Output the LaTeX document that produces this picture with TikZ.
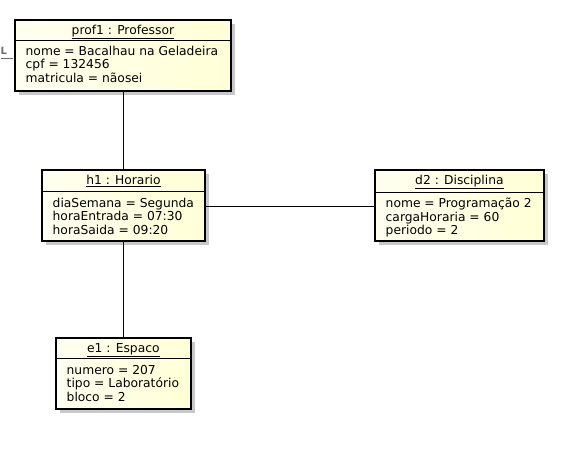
\documentclass[tikz,border=0pt]{standalone}
\usepackage{fontspec}
\setmainfont{DejaVu Sans}
\usetikzlibrary{shadows,calc}
\definecolor{objfill}{RGB}{255,255,214}
\definecolor{objfillL}{RGB}{255,255,240}
\definecolor{shadowgray}{RGB}{200,200,200}
\definecolor{markgray}{RGB}{110,110,110}
\tikzset{
  objbox/.style={draw=black, line width=1.8pt, left color=objfillL, right color=objfill,
    inner sep=0pt, anchor=north west,
    drop shadow={shadow xshift=4pt, shadow yshift=-4pt, fill=shadowgray, opacity=1}},
  objtitle/.style={anchor=base, inner sep=0pt, font=\fontsize{12.3}{13.5}\selectfont},
  objattr/.style={anchor=base west, inner sep=0pt, align=left, font=\fontsize{12.3}{13.5}\selectfont},
  sepline/.style={draw=black, line width=0.8pt},
  link/.style={draw=black, line width=0.8pt}
}
% \umlobj{name}{left}{top}{width}{height}{header height}{title}{attribute lines}
% the attribute block is placed by the baseline of its last (third) line
\newcommand{\umlobj}[8]{%
  \node[objbox, minimum width=#4pt, minimum height=#5pt] (#1) at (#2,#3) {};
  \node[objtitle] (#1-title) at ($(#1.north)+(0,15.5)$) {\underline{#7}};
  \draw[sepline] ($(#1.north west)+(0,#6)$) -- ($(#1.north east)+(0,#6)$);
  \node[objattr] (#1-attrs) at ($(#1.north west)+(11.5,#6+42.5)$) {#8};
}
\begin{document}
\begin{tikzpicture}[x=1pt, y=-1pt]
  \useasboundingbox[fill=white] (0,0) rectangle (572,457);

  \umlobj{prof1}{14}{19}{216}{71}{21}{prof1 : Professor}{nome = Bacalhau na Geladeira\\cpf = 132456\\matricula = nãosei}
  \umlobj{h1}{41}{169}{163}{71}{22.5}{h1 : Horario}{diaSemana = Segunda\\horaEntrada = 07:30\\horaSaida = 09:20}
  \umlobj{d2}{374}{169}{169}{71}{23}{d2 : Disciplina}{nome = Programação 2\\cargaHoraria = 60\\periodo = 2}
  \umlobj{e1}{55}{337}{135}{71}{21.5}{e1 : Espaco}{numero = 207\\tipo = Laboratório\\bloco = 2}

  % links between the objects
  \draw[link] (prof1.south) -- (prof1.south |- h1.north);
  \draw[link] (prof1.south |- h1.south) -- (prof1.south |- e1.north);
  \draw[link] (h1.east |- 0,206) -- (d2.west |- 0,206);

  % clipped marker at the left edge
  \node[anchor=base west, inner sep=0pt, text=markgray, font=\fontsize{10}{11}\selectfont\bfseries] (mark) at (0.5,55) {L};
  \coordinate (markend) at (13,58.5);
  \draw[draw=markgray, line width=1.4pt] (mark.south west |- markend) -- (markend);
\end{tikzpicture}
\end{document}
